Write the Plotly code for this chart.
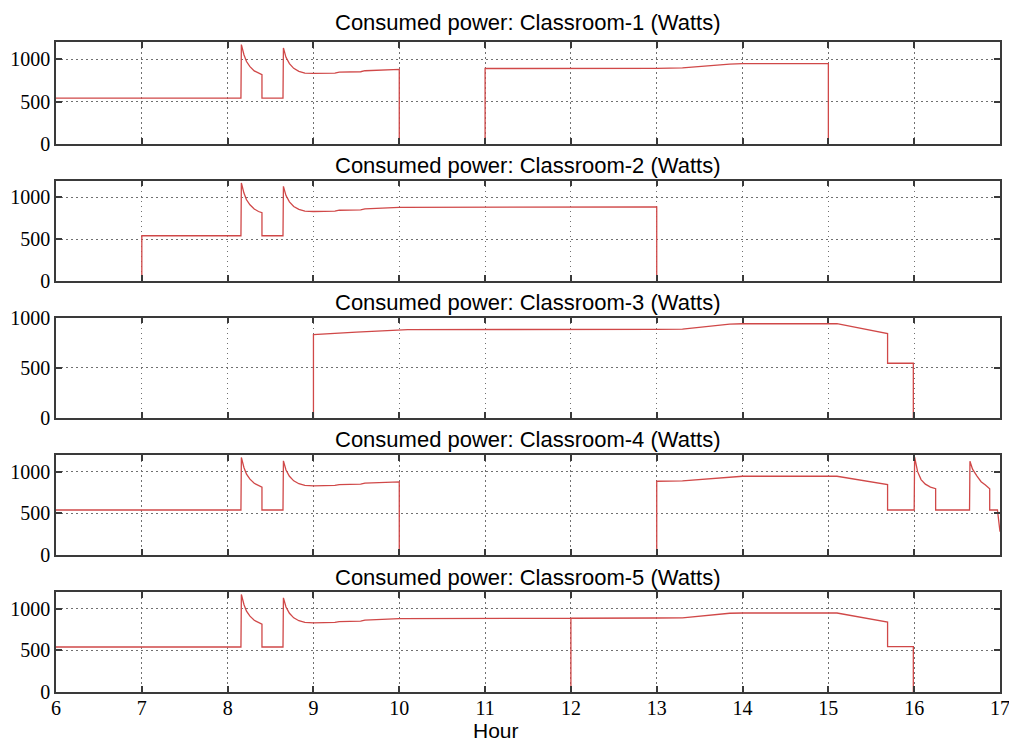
import plotly.graph_objects as go

# ---------------- data (hour of day, consumed power in watts) ----------------
# None marks the stretches where a classroom draws 0 W (the line sits on the axis)
titles = [
    "Consumed power: Classroom-1 (Watts)",
    "Consumed power: Classroom-2 (Watts)",
    "Consumed power: Classroom-3 (Watts)",
    "Consumed power: Classroom-4 (Watts)",
    "Consumed power: Classroom-5 (Watts)",
]

hours_1 = [6, 8.155, 8.16, 8.19, 8.22, 8.26, 8.31, 8.36, 8.40, 8.40, 8.645, 8.65, 8.68, 8.72, 8.77, 8.83, 8.90,
           9.0, 9.25, 9.3, 9.55, 9.6, 9.8, 9.85, 10.0, 10.0, None, 11.0, 11.0, 13.0, 13.3, 13.85, 14.0, 15.0, 15.0]
watts_1 = [540, 540, 1170, 1050, 970, 910, 860, 830, 815, 540, 540, 1130, 1020, 945, 890, 855, 835,
           830, 835, 845, 850, 862, 868, 875, 878, 0, None, 0, 888, 890, 895, 940, 945, 945, 0]

hours_2 = [7.0, 7.0, 8.155, 8.16, 8.19, 8.22, 8.26, 8.31, 8.36, 8.40, 8.40, 8.645, 8.65, 8.68, 8.72, 8.77, 8.83, 8.90,
           9.0, 9.25, 9.3, 9.55, 9.6, 9.8, 9.85, 10.0, 13.0, 13.0]
watts_2 = [0, 540, 540, 1170, 1050, 970, 910, 860, 830, 815, 540, 540, 1130, 1020, 945, 890, 855, 835,
           830, 835, 845, 850, 862, 868, 875, 880, 885, 0]

hours_3 = [9.0, 9.0, 9.5, 10.1, 13.0, 13.3, 13.85, 14.0, 15.1, 15.69, 15.69, 15.99, 15.99]
watts_3 = [0, 830, 855, 880, 882, 885, 935, 938, 938, 840, 545, 545, 0]

hours_4 = [6, 8.155, 8.16, 8.19, 8.22, 8.26, 8.31, 8.36, 8.40, 8.40, 8.645, 8.65, 8.68, 8.72, 8.77, 8.83, 8.90,
           9.0, 9.25, 9.3, 9.55, 9.6, 9.8, 9.85, 10.0, 10.0, None, 13.0, 13.0, 13.3, 13.85, 14.0, 15.1, 15.69, 15.69,
           16.0, 16.005, 16.04, 16.08, 16.13, 16.19, 16.25, 16.25, 16.645, 16.65, 16.68, 16.73, 16.78, 16.83, 16.88, 16.88,
           16.97, 17.0]
watts_4 = [540, 540, 1170, 1050, 970, 910, 860, 830, 815, 540, 540, 1130, 1020, 945, 890, 855, 835,
           830, 835, 845, 850, 862, 868, 875, 878, 0, None, 0, 885, 890, 940, 945, 945, 845, 540,
           540, 1175, 1000, 905, 850, 815, 795, 540, 540, 1125, 1030, 950, 880, 840, 795, 540,
           540, 280]

hours_5 = [6, 8.155, 8.16, 8.19, 8.22, 8.26, 8.31, 8.36, 8.40, 8.40, 8.645, 8.65, 8.68, 8.72, 8.77, 8.83, 8.90,
           9.0, 9.25, 9.3, 9.55, 9.6, 9.8, 9.85, 10.0, 12.0, 12.0, 12.0, 13.0, 13.3, 13.85, 14.0, 15.1, 15.69, 15.69,
           15.99, 15.99]
watts_5 = [540, 540, 1170, 1050, 970, 910, 860, 830, 815, 540, 540, 1130, 1020, 945, 890, 855, 835,
           830, 835, 845, 850, 862, 868, 875, 880, 885, 0, 885, 888, 890, 945, 948, 948, 840, 545,
           545, 0]

y_max = [1200, 1200, 1000, 1200, 1200]
y_ticks = [0, 500, 1000]
x_ticks = [6, 7, 8, 9, 10, 11, 12, 13, 14, 15, 16, 17]
x_label = "Hour"

series_hours = [hours_1, hours_2, hours_3, hours_4, hours_5]
series_watts = [watts_1, watts_2, watts_3, watts_4, watts_5]

# ---------------- layout ----------------
W, H = 1009, 742
M_L, M_R, M_T, M_B = 56, 9, 42, 50
plot_w = W - M_L - M_R
plot_h = H - M_T - M_B
panel_px = [(42, 144), (180.5, 281), (317.5, 418), (455, 555), (592, 692)]
title_px = [22, 165, 302, 439, 577]

LINE = "#d04848"
AX = "#3a3a3a"
GRID = "#707070"
TICKFONT = dict(family="Liberation Serif", size=20, color="black")

fig = go.Figure()
layout = dict(
    width=W, height=H,
    margin=dict(l=M_L, r=M_R, t=M_T, b=M_B, autoexpand=False),
    paper_bgcolor="white", plot_bgcolor="white",
    showlegend=False,
    font=dict(family="Liberation Serif", size=18, color="black"),
    annotations=[],
)

for i in range(5):
    n = i + 1
    xa = "x" if n == 1 else f"x{n}"
    ya = "y" if n == 1 else f"y{n}"
    fig.add_trace(go.Scatter(x=series_hours[i], y=series_watts[i], mode="lines",
                             line=dict(color=LINE, width=1.3), xaxis=xa, yaxis=ya,
                             connectgaps=False, hoverinfo="x+y"))
    top, bot = panel_px[i]
    d0 = (H - M_B - bot) / plot_h
    d1 = (H - M_B - top) / plot_h
    xkey = "xaxis" if n == 1 else f"xaxis{n}"
    ykey = "yaxis" if n == 1 else f"yaxis{n}"
    layout[xkey] = dict(
        domain=[0, 1], anchor=ya, range=[6, 17], tickmode="array", tickvals=x_ticks,
        showticklabels=(n == 5), ticks="inside", ticklen=6, tickwidth=1.5, tickcolor=AX,
        showline=True, linecolor=AX, linewidth=1.5, mirror="ticks",
        showgrid=True, gridcolor=GRID, griddash="1.5px,3.5px", gridwidth=1,
        zeroline=False, layer="above traces", automargin=False,
        tickfont=TICKFONT, ticklabelstandoff=-3, ticklabeloverflow="allow",
    )
    if n != 1:
        layout[xkey]["matches"] = "x"
    layout[ykey] = dict(
        domain=[d0, d1], anchor=xa, range=[0, y_max[i]], tickmode="array", tickvals=y_ticks,
        ticks="inside", ticklen=6, tickwidth=1.5, tickcolor=AX,
        showline=True, linecolor=AX, linewidth=1.5, mirror="ticks",
        showgrid=True, gridcolor=GRID, griddash="1.5px,3.5px", gridwidth=1,
        zeroline=False, layer="above traces", automargin=False,
        tickfont=TICKFONT, ticklabeloverflow="allow",
    )
    layout["annotations"].append(dict(
        text=titles[i], xref="paper", yref="paper", x=0.5,
        y=(H - M_B - title_px[i]) / plot_h, xanchor="center", yanchor="middle",
        showarrow=False, font=dict(family="Liberation Sans", size=22, color="black"),
    ))

# x-axis label (sits slightly left of the panel centre in the reference)
layout["annotations"].append(dict(
    text=x_label, xref="paper", yref="paper", x=(496 - M_L) / plot_w,
    y=(H - M_B - 730) / plot_h, xanchor="center", yanchor="middle",
    showarrow=False, font=dict(family="Liberation Sans", size=21, color="black"),
))

fig.update_layout(**layout)
fig.write_html("out.html")
